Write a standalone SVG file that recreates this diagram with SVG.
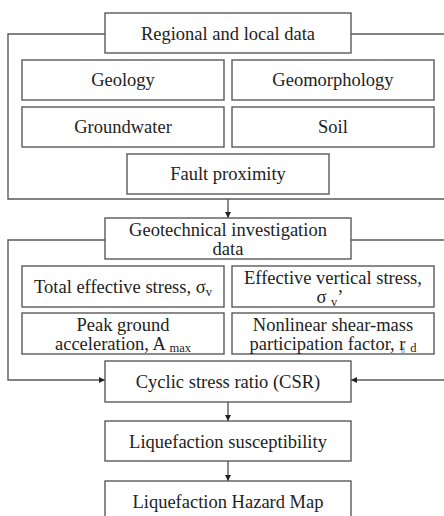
<svg xmlns="http://www.w3.org/2000/svg" width="444" height="516" viewBox="0 0 444 516">
<defs>
<marker id="arr" viewBox="0 0 10 10" refX="10" refY="5" markerWidth="6" markerHeight="6" markerUnits="userSpaceOnUse" orient="auto">
<path d="M0,0 L10,5 L0,10 Z" fill="#222"/>
</marker>
<style>
.box{fill:#fff;stroke:#5a5a5a;stroke-width:1.4}
.ln{fill:none;stroke:#5a5a5a;stroke-width:1.4}
text{font-family:"Liberation Serif",Tinos,"DejaVu Serif",serif;font-size:18.5px;fill:#222;text-anchor:middle}
.sub{font-size:12.5px}
</style>
</defs>
<rect width="444" height="516" fill="#fff"/>
<g id="connectors">
<path class="ln" d="M105,34 H8 V199 H444"/>
<path class="ln" d="M351,34 H444"/>
<path class="ln" d="M228,199 V218" marker-end="url(#arr)"/>
<path class="ln" d="M105,240 H8 V380 H105" marker-end="url(#arr)"/>
<path class="ln" d="M351,240 H444"/>
<path class="ln" d="M444,380 H351" marker-end="url(#arr)"/>
<path class="ln" d="M228,402 V421" marker-end="url(#arr)"/>
<path class="ln" d="M228,461 V481" marker-end="url(#arr)"/>
</g>
<g id="regional"><rect class="box" x="105" y="13" width="246" height="40"/><text x="228" y="39.5">Regional and local data</text></g>
<g id="geology"><rect class="box" x="22" y="60" width="202" height="40"/><text x="123" y="86">Geology</text></g>
<g id="geomorphology"><rect class="box" x="232" y="60" width="202" height="40"/><text x="333" y="86">Geomorphology</text></g>
<g id="groundwater"><rect class="box" x="22" y="107" width="202" height="40"/><text x="123" y="133">Groundwater</text></g>
<g id="soil"><rect class="box" x="232" y="107" width="202" height="40"/><text x="333" y="133">Soil</text></g>
<g id="fault"><rect class="box" x="127" y="154" width="202" height="40"/><text x="228" y="180">Fault proximity</text></g>
<g id="geotech"><rect class="box" x="105" y="218" width="246" height="41"/><text x="228" y="236">Geotechnical investigation</text><text x="228" y="255">data</text></g>
<g id="total"><rect class="box" x="22" y="266" width="202" height="41"/><text x="123" y="293">Total effective stress, σ<tspan class="sub" dy="3">v</tspan></text></g>
<g id="effective"><rect class="box" x="232" y="266" width="202" height="41"/><text x="333" y="284">Effective vertical stress,</text><text x="330" y="303">σ <tspan class="sub" dy="3">v</tspan><tspan dy="-3">’</tspan></text></g>
<g id="peak"><rect class="box" x="22" y="313" width="202" height="41"/><text x="123" y="331">Peak ground</text><text x="123" y="350">acceleration, A <tspan class="sub" dy="2">max</tspan></text></g>
<g id="nonlinear"><rect x="401" y="347" width="4" height="6" fill="#b8cde8"/><rect class="box" x="232" y="313" width="202" height="41" fill-opacity="0"/><text x="333" y="331">Nonlinear shear-mass</text><text x="333" y="350">participation factor, r <tspan class="sub" dy="2">d</tspan></text></g>
<g id="csr"><rect class="box" x="105" y="361" width="246" height="41"/><text x="228" y="387.5">Cyclic stress ratio (CSR)</text></g>
<g id="suscept"><rect class="box" x="105" y="421" width="246" height="40"/><text x="228" y="447.5">Liquefaction susceptibility</text></g>
<g id="hazard"><rect class="box" x="105" y="481" width="246" height="40"/><text x="228" y="507.5">Liquefaction Hazard Map</text></g>
</svg>
